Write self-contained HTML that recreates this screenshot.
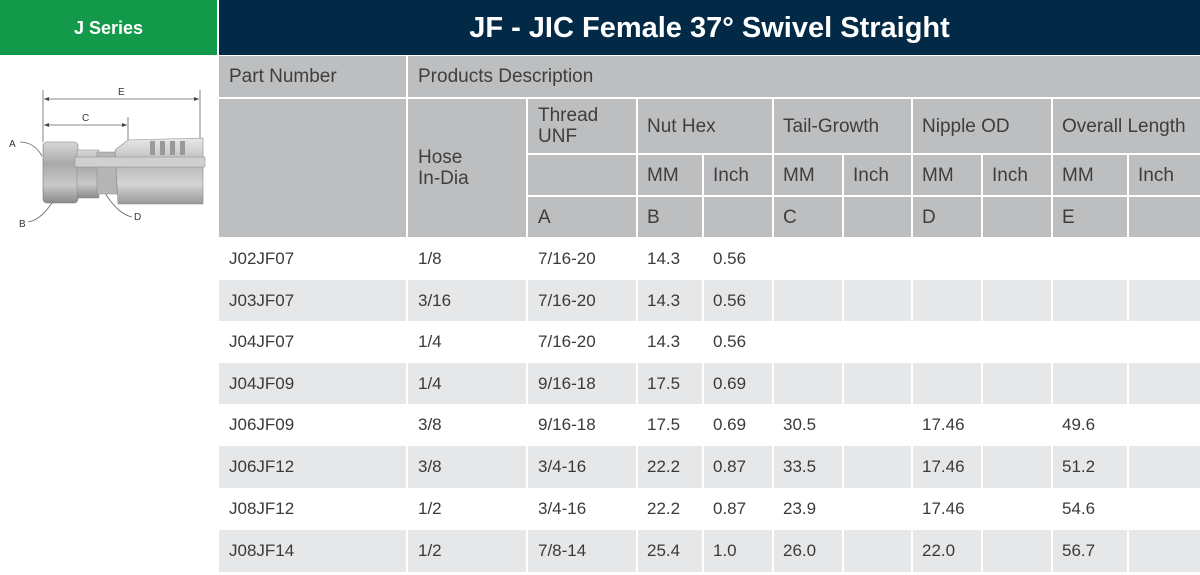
<!DOCTYPE html>
<html><head><meta charset="utf-8">
<style>
*{margin:0;padding:0;box-sizing:border-box}
html,body{width:1200px;height:575px;background:#fff;overflow:hidden;font-family:"Liberation Sans",Arial,sans-serif}
.a{position:absolute}
.g{position:absolute;background:#bcbec0;color:#3e3e3e;font-size:19px;display:flex;align-items:center;padding-left:10px;line-height:21px}
.row{position:absolute;left:219px;width:981px;display:flex;color:#3a3a3a;font-size:17px}
.row div{height:100%;display:flex;align-items:center;padding-left:10px;margin-right:2px}
.row div:last-child{margin-right:0}
.gr div{background:#e6e7e8}
.w1{width:187px}.w2{width:118px}.w3{width:108px}.w4{width:64px;padding-left:9px!important}.w5{width:68px;padding-left:9px!important}.w6{width:68px;padding-left:9px!important}.w7{width:67px}.w8{width:68px;padding-left:9px!important}.w9{width:68px}.w10{width:74px;padding-left:9px!important}.w11{width:71px}
</style></head><body>
<div class="a" style="left:0;top:0;width:217px;height:55px;background:#12994a;color:#fff;font-weight:bold;font-size:18px;display:flex;align-items:center;justify-content:center;padding-top:2px">J Series</div>
<div class="a" style="left:219px;top:0;width:981px;height:55px;background:#022a46;color:#fff;font-weight:bold;font-size:29px;display:flex;align-items:center;justify-content:center;padding-top:2px">JF - JIC Female 37° Swivel Straight</div>

<svg class="a" style="left:0;top:60px" width="217" height="180" viewBox="0 60 217 180">
<defs>
<linearGradient id="nut" x1="0" y1="0" x2="0" y2="1"><stop offset="0" stop-color="#d8d8d8"/><stop offset="0.35" stop-color="#a9a9a9"/><stop offset="0.7" stop-color="#c9c9c9"/><stop offset="1" stop-color="#8a8a8a"/></linearGradient>
<linearGradient id="slv" x1="0" y1="0" x2="0" y2="1"><stop offset="0" stop-color="#e8e8e8"/><stop offset="0.4" stop-color="#b8b8b8"/><stop offset="0.7" stop-color="#d4d4d4"/><stop offset="1" stop-color="#999"/></linearGradient>
</defs>
<g stroke="#666" stroke-width="0.8" fill="none">
<line x1="43" y1="90" x2="43" y2="142"/><line x1="200" y1="90" x2="200" y2="140"/>
<line x1="44" y1="99" x2="199" y2="99"/>
<line x1="44" y1="125" x2="127" y2="125"/><line x1="128" y1="117" x2="128" y2="150"/>
<path d="M20 142 Q34 142 42 156"/><path d="M28 222 Q42 220 55 198"/><path d="M132 217 Q118 214 105 193"/>
</g>
<polygon points="44,99 49,97 49,101" fill="#444"/><polygon points="199,99 194,97 194,101" fill="#444"/>
<polygon points="44,125 49,123 49,127" fill="#444"/><polygon points="127,125 122,123 122,127" fill="#444"/>
<rect x="43" y="142" width="35" height="61" rx="4" fill="url(#nut)" stroke="#777" stroke-width="0.6"/>
<rect x="77" y="150" width="22" height="48" fill="url(#nut)" stroke="#888" stroke-width="0.5"/>
<rect x="97" y="152" width="20" height="42" fill="#b5b5b5" stroke="#888" stroke-width="0.5"/>
<path d="M115 150 L128 140 L203 138 L203 204 L118 204 Z" fill="url(#slv)" stroke="#888" stroke-width="0.6"/>
<g fill="#999"><rect x="150" y="141" width="5" height="14"/><rect x="160" y="141" width="5" height="14"/><rect x="170" y="141" width="5" height="14"/><rect x="180" y="141" width="5" height="14"/></g>
<rect x="75" y="157" width="130" height="10" fill="#d0d0d0" stroke="#888" stroke-width="0.5"/>
<g font-family="Liberation Sans,Arial,sans-serif" font-size="10" fill="#333">
<text x="118" y="95">E</text><text x="82" y="121">C</text><text x="9" y="147">A</text><text x="19" y="227">B</text><text x="134" y="220">D</text>
</g>
</svg>

<div class="g" style="left:219px;top:56px;width:187px;height:41px">Part Number</div>
<div class="g" style="left:408px;top:56px;width:792px;height:41px">Products Description</div>
<div class="g" style="left:219px;top:99px;width:187px;height:138px"></div>
<div class="g" style="left:408px;top:99px;width:118px;height:138px">Hose<br>In-Dia</div>
<div class="g" style="left:528px;top:99px;width:108px;height:54px">Thread<br>UNF</div>
<div class="g" style="left:638px;top:99px;width:134px;height:54px;padding-left:9px">Nut Hex</div>
<div class="g" style="left:774px;top:99px;width:137px;height:54px;padding-left:9px">Tail-Growth</div>
<div class="g" style="left:913px;top:99px;width:138px;height:54px;padding-left:9px">Nipple OD</div>
<div class="g" style="left:1053px;top:99px;width:147px;height:54px;padding-left:9px">Overall Length</div>

<div class="g" style="left:528px;top:155px;width:108px;height:40px"></div>
<div class="g" style="left:638px;top:155px;width:64px;height:40px;padding-left:9px">MM</div>
<div class="g" style="left:704px;top:155px;width:68px;height:40px;padding-left:9px">Inch</div>
<div class="g" style="left:774px;top:155px;width:68px;height:40px;padding-left:9px">MM</div>
<div class="g" style="left:844px;top:155px;width:67px;height:40px;padding-left:9px">Inch</div>
<div class="g" style="left:913px;top:155px;width:68px;height:40px;padding-left:9px">MM</div>
<div class="g" style="left:983px;top:155px;width:68px;height:40px;padding-left:9px">Inch</div>
<div class="g" style="left:1053px;top:155px;width:74px;height:40px;padding-left:9px">MM</div>
<div class="g" style="left:1129px;top:155px;width:71px;height:40px;padding-left:9px">Inch</div>

<div class="g" style="left:528px;top:197px;width:108px;height:40px">A</div>
<div class="g" style="left:638px;top:197px;width:64px;height:40px;padding-left:9px">B</div>
<div class="g" style="left:704px;top:197px;width:68px;height:40px"></div>
<div class="g" style="left:774px;top:197px;width:68px;height:40px;padding-left:9px">C</div>
<div class="g" style="left:844px;top:197px;width:67px;height:40px"></div>
<div class="g" style="left:913px;top:197px;width:68px;height:40px;padding-left:9px">D</div>
<div class="g" style="left:983px;top:197px;width:68px;height:40px"></div>
<div class="g" style="left:1053px;top:197px;width:74px;height:40px;padding-left:9px">E</div>
<div class="g" style="left:1129px;top:197px;width:71px;height:40px"></div>

<div class="row" style="top:238px;height:42px"><div class="w1">J02JF07</div><div class="w2">1/8</div><div class="w3">7/16-20</div><div class="w4">14.3</div><div class="w5">0.56</div><div class="w6"></div><div class="w7"></div><div class="w8"></div><div class="w9"></div><div class="w10"></div><div class="w11"></div></div>
<div class="row gr" style="top:280px;height:41px"><div class="w1">J03JF07</div><div class="w2">3/16</div><div class="w3">7/16-20</div><div class="w4">14.3</div><div class="w5">0.56</div><div class="w6"></div><div class="w7"></div><div class="w8"></div><div class="w9"></div><div class="w10"></div><div class="w11"></div></div>
<div class="row" style="top:321px;height:42px"><div class="w1">J04JF07</div><div class="w2">1/4</div><div class="w3">7/16-20</div><div class="w4">14.3</div><div class="w5">0.56</div><div class="w6"></div><div class="w7"></div><div class="w8"></div><div class="w9"></div><div class="w10"></div><div class="w11"></div></div>
<div class="row gr" style="top:363px;height:41px"><div class="w1">J04JF09</div><div class="w2">1/4</div><div class="w3">9/16-18</div><div class="w4">17.5</div><div class="w5">0.69</div><div class="w6"></div><div class="w7"></div><div class="w8"></div><div class="w9"></div><div class="w10"></div><div class="w11"></div></div>
<div class="row" style="top:404px;height:42px"><div class="w1">J06JF09</div><div class="w2">3/8</div><div class="w3">9/16-18</div><div class="w4">17.5</div><div class="w5">0.69</div><div class="w6">30.5</div><div class="w7"></div><div class="w8">17.46</div><div class="w9"></div><div class="w10">49.6</div><div class="w11"></div></div>
<div class="row gr" style="top:446px;height:42px"><div class="w1">J06JF12</div><div class="w2">3/8</div><div class="w3">3/4-16</div><div class="w4">22.2</div><div class="w5">0.87</div><div class="w6">33.5</div><div class="w7"></div><div class="w8">17.46</div><div class="w9"></div><div class="w10">51.2</div><div class="w11"></div></div>
<div class="row" style="top:488px;height:42px"><div class="w1">J08JF12</div><div class="w2">1/2</div><div class="w3">3/4-16</div><div class="w4">22.2</div><div class="w5">0.87</div><div class="w6">23.9</div><div class="w7"></div><div class="w8">17.46</div><div class="w9"></div><div class="w10">54.6</div><div class="w11"></div></div>
<div class="row gr" style="top:530px;height:42px"><div class="w1">J08JF14</div><div class="w2">1/2</div><div class="w3">7/8-14</div><div class="w4">25.4</div><div class="w5">1.0</div><div class="w6">26.0</div><div class="w7"></div><div class="w8">22.0</div><div class="w9"></div><div class="w10">56.7</div><div class="w11"></div></div>
</body></html>
